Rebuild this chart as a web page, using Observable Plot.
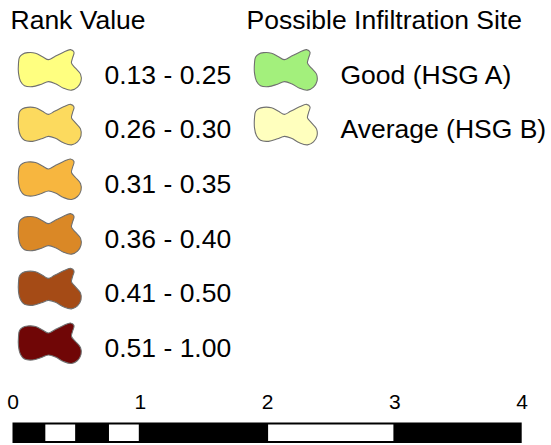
<!DOCTYPE html>
<html>
<head>
<meta charset="utf-8">
<script src="https://cdn.jsdelivr.net/npm/d3@7"></script>
<script src="https://cdn.jsdelivr.net/npm/@observablehq/plot@0.6"></script>
<style>
  html, body { margin: 0; padding: 0; background: #fff; }
  svg { display: block; }
  #chart { width: 551px; height: 445px; overflow: hidden; }
</style>
</head>
<body>
<div id="chart"></div>
<script>
// ---- data ----
const legendTitles = ["Rank Value", "Possible Infiltration Site"];
const rankLabels = ["0.13 - 0.25", "0.26 - 0.30", "0.31 - 0.35", "0.36 - 0.40", "0.41 - 0.50", "0.51 - 1.00"];
const rankColors = ["#FFFF80", "#FCDA5E", "#F7B63F", "#DA8826", "#A54B16", "#700606"];
const siteLabels = ["Good (HSG A)", "Average (HSG B)"];
const siteColors = ["#A3F07C", "#FFFFBE"];
const scaleBreaks = [0, 0.25, 0.5, 0.75, 1, 2, 3, 4];
const scaleTicks = [0, 1, 2, 3, 4];

// blob outline used as a legend patch symbol (shape only, relative units)
const blobOutline = [[-27,-16],[-22,-17.5],[-14,-17],[-7,-13.5],[-1,-10.5],[5,-13.5],[14,-18],[21,-20.5],[24.5,-18],[23,-12],[22,-7],[26,-2],[31,4],[31.5,11],[28,17],[22,20],[14,18],[6,13.5],[-1,11.5],[-8,14],[-17,16.5],[-25,15.5],[-29,11],[-31,3],[-31,-7],[-30,-13]];
const blobSymbol = {
  draw(context, size) {
    const k = Math.sqrt(size / Math.PI) / 10;
    d3.line().x(p => p[0] * k).y(p => p[1] * k).curve(d3.curveCatmullRomClosed.alpha(0.5)).context(context)(blobOutline);
  }
};

const font = "'Liberation Sans', Arial, sans-serif";

const rankRows = rankLabels.map((label, i) => ({col: legendTitles[0], row: i, label, color: rankColors[i]}));
const siteRows = siteLabels.map((label, i) => ({col: legendTitles[1], row: i, label, color: siteColors[i]}));
const rows = rankRows.concat(siteRows);
const titleRows = legendTitles.map(t => ({col: t, row: -1, label: t}));

const legend = Plot.plot({
  width: 551,
  height: 375,
  margin: 0,
  style: {fontFamily: font, background: "white"},
  x: {type: "point", domain: legendTitles, range: [49, 285.5], padding: 0, axis: null},
  y: {type: "linear", domain: [-1, 5], range: [20, 348], axis: null},
  color: {type: "identity"},
  marks: [
    Plot.dot(rows, {x: "col", y: "row", r: 10, symbol: blobSymbol, fill: "color", stroke: "#707070", strokeWidth: 1.1, dy: -5}),
    Plot.text(rows, {x: "col", y: "row", text: "label", dx: 55, textAnchor: "start", fontSize: 26.5, fill: "black"}),
    Plot.text(titleRows, {x: "col", y: "row", text: "label", dx: -39, textAnchor: "start", fontSize: 26.5, fill: "black"})
  ]
});

const segments = scaleBreaks.slice(0, -1).map((b, i) => ({x1: b, x2: scaleBreaks[i + 1], white: i % 2 === 1}));

const scalebar = Plot.plot({
  width: 551,
  height: 70,
  marginTop: 47.5,
  marginBottom: 2,
  marginLeft: 12.5,
  marginRight: 29.3,
  style: {fontFamily: font, background: "white"},
  x: {domain: [scaleBreaks[0], scaleBreaks[scaleBreaks.length - 1]], axis: null},
  marks: [
    Plot.barX([{x1: scaleBreaks[0], x2: scaleBreaks[scaleBreaks.length - 1]}], {x1: "x1", x2: "x2", fill: "black"}),
    Plot.barX(segments.filter(d => d.white), {x1: "x1", x2: "x2", fill: "white", insetTop: 2, insetBottom: 2, insetLeft: 1, insetRight: 1}),
    Plot.text(scaleTicks, {x: d => d, text: d => String(d), frameAnchor: "top", lineAnchor: "middle", dy: -21, fontSize: 21, fill: "black"})
  ]
});

const chart = document.getElementById("chart");
chart.appendChild(legend);
chart.appendChild(scalebar);
</script>
</body>
</html>
